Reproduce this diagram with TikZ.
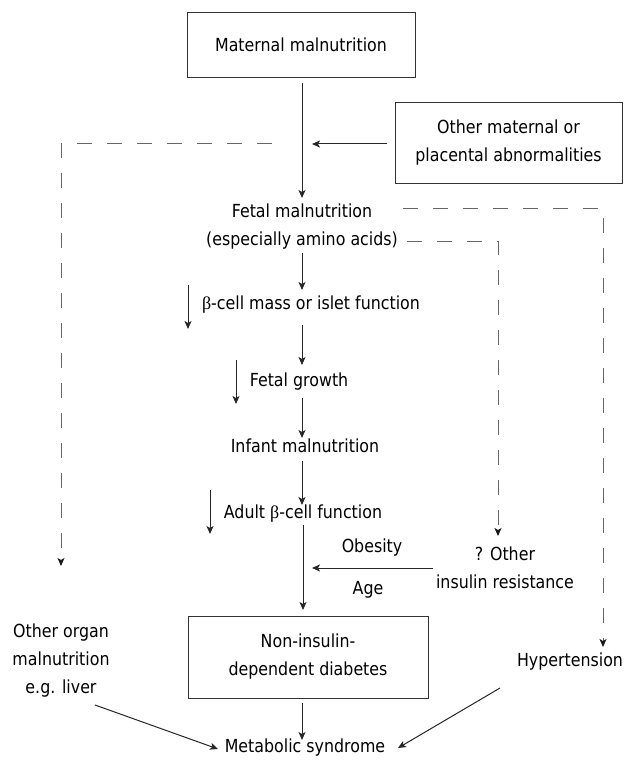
\documentclass[tikz,border=0pt]{standalone}
\usepackage{fontspec}
\setmainfont[FakeStretch=0.88]{DejaVu Sans}
\newfontfamily\betafont{Liberation Serif}
\newcommand{\bet}{{\betafont β}}
\usetikzlibrary{arrows.meta}
\begin{document}
\begin{tikzpicture}[x=1pt,y=-1pt,
  every node/.style={font=\fontsize{18}{28}\selectfont, inner sep=0pt, align=center},
  box/.style={draw=black!80, line width=1pt, minimum width=#1},
  arr/.style={draw=black!85, line width=1pt, -{Stealth[length=8,width=7,inset=2]}},
  dsh/.style={draw=black!60, line width=1pt, dash pattern=on 15 off 15},
  darr/.style={dsh, -{Stealth[length=8,width=7,inset=2,color=black!90]}}]
\useasboundingbox (0,0) rectangle (625,762);
% nodes
\node[box=228, minimum height=65] (mm) at (301,45) {Maternal malnutrition};
\node[box=227, minimum height=80] (om) at (508.5,143) {Other maternal or\\placental abnormalities};
\node (fm) at (302,227) {Fetal malnutrition\\(especially amino acids)};
\node (bc) at (311,305) {\bet-cell mass or islet function};
\node (fg) at (299,382) {Fetal growth};
\node (im) at (305,446) {Infant malnutrition};
\node (ab) at (303,514) {Adult \bet-cell function};
\node (ob) at (372,548) {Obesity};
\node (ag) at (368,590) {Age};
\node (oi) at (505,568) {? Other\\insulin resistance};
\node[box=240, minimum height=82] (nd) at (308,657) {Non-insulin-\\dependent diabetes};
\node (ms) at (305,748) {Metabolic syndrome};
\node (oo) at (61,661) {Other organ\\malnutrition\\e.g. liver};
\node (hy) at (570,662) {Hypertension};
% coordinates
\coordinate (a1s) at (302,83);  \coordinate (a1e) at (302,198);
\coordinate (a2s) at (387,144); \coordinate (a2e) at (312,144);
\coordinate (d1a) at (272,144); \coordinate (d1b) at (61,144); \coordinate (d1c) at (61,566);
\coordinate (d2a) at (403,208); \coordinate (d2b) at (603,208); \coordinate (d2c) at (603,647);
\coordinate (d3a) at (407,241); \coordinate (d3b) at (498,241); \coordinate (d3c) at (498,536);
\coordinate (a3s) at (302,253); \coordinate (a3e) at (302,290);
\coordinate (a4s) at (302,325); \coordinate (a4e) at (302,365);
\coordinate (a5s) at (302,398); \coordinate (a5e) at (302,438);
\coordinate (a6s) at (302,461); \coordinate (a6e) at (302,505);
\coordinate (a7s) at (303,525); \coordinate (a7e) at (303,610);
\coordinate (a8s) at (433,568); \coordinate (a8e) at (312,568);
\coordinate (a9s) at (302,703); \coordinate (a9e) at (302,740);
\coordinate (a10s) at (95,705); \coordinate (a10e) at (218,749);
\coordinate (a11s) at (500,688); \coordinate (a11e) at (398,748);
\coordinate (s1s) at (188,285); \coordinate (s1e) at (188,329);
\coordinate (s2s) at (236,360); \coordinate (s2e) at (236,404);
\coordinate (s3s) at (210,490); \coordinate (s3e) at (210,534);
% connectors
\draw[arr] (a1s) -- (a1e);
\draw[arr] (a2s) -- (a2e);
\draw[darr] (d1a) -- (d1b) -- (d1c);
\draw[darr] (d2a) -- (d2b) -- (d2c);
\draw[darr] (d3a) -- (d3b) -- (d3c);
\draw[arr] (a3s) -- (a3e);
\draw[arr] (a4s) -- (a4e);
\draw[arr] (a5s) -- (a5e);
\draw[arr] (a6s) -- (a6e);
\draw[arr] (a7s) -- (a7e);
\draw[arr] (a8s) -- (a8e);
\draw[arr] (a9s) -- (a9e);
\draw[arr] (a10s) -- (a10e);
\draw[arr] (a11s) -- (a11e);
\draw[arr] (s1s) -- (s1e);
\draw[arr] (s2s) -- (s2e);
\draw[arr] (s3s) -- (s3e);
\end{tikzpicture}
\end{document}
